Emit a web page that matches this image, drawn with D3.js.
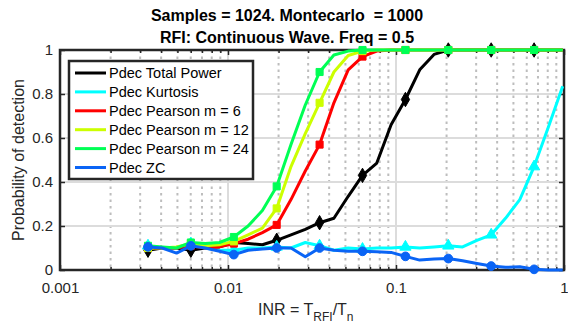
<!DOCTYPE html>
<html>
<head>
<meta charset="utf-8">
<script src="https://cdn.jsdelivr.net/npm/d3@7"></script>
<style>
  body { margin: 0; background: #fff; }
  svg { display: block; font-family: "Liberation Sans", Arial, sans-serif; }
</style>
</head>
<body>
<div id="chart"></div>
<script>
// INR sample points (T_RFI / T_n)
const inr = [0.00334, 0.00406, 0.00494, 0.00601, 0.00732, 0.0089, 0.01083, 0.01317, 0.01602, 0.01949,
             0.02371, 0.02884, 0.03509, 0.0427, 0.05194, 0.06319, 0.07687, 0.0935, 0.1138, 0.1384,
             0.1684, 0.2048, 0.2491, 0.3031, 0.3687, 0.4485, 0.5456, 0.6638, 0.8076, 0.9823];

// probability of detection per detector
const pdTotalPower = [0.09, 0.1, 0.1, 0.09, 0.1, 0.105, 0.125, 0.12, 0.115, 0.135,
                      0.16, 0.185, 0.215, 0.235, 0.335, 0.43, 0.486, 0.66, 0.775, 0.91,
                      0.98, 1, 1, 1, 1, 1, 1, 1, 1, 1];
const pdKurtosis = [0.11, 0.1, 0.1, 0.12, 0.1, 0.09, 0.09, 0.1, 0.1, 0.105,
                    0.1, 0.125, 0.11, 0.09, 0.1, 0.095, 0.1, 0.1, 0.105, 0.1,
                    0.105, 0.11, 0.105, 0.135, 0.16, 0.235, 0.32, 0.47, 0.65, 0.835];
const pdPearson6 = [0.1, 0.1, 0.1, 0.11, 0.1, 0.105, 0.12, 0.14, 0.17, 0.205,
                    0.32, 0.45, 0.57, 0.76, 0.91, 0.97, 0.995, 1, 1, 1,
                    1, 1, 1, 1, 1, 1, 1, 1, 1, 1];
const pdPearson12 = [0.1, 0.1, 0.105, 0.12, 0.11, 0.115, 0.13, 0.16, 0.19, 0.28,
                     0.47, 0.62, 0.76, 0.9, 0.975, 0.995, 1, 1, 1, 1,
                     1, 1, 1, 1, 1, 1, 1, 1, 1, 1];
const pdPearson24 = [0.11, 0.105, 0.1, 0.125, 0.12, 0.125, 0.15, 0.2, 0.27, 0.38,
                     0.57, 0.75, 0.9, 0.977, 0.995, 1, 1, 1, 1, 1,
                     1, 1, 1, 1, 1, 1, 1, 1, 1, 1];
const pdZC = [0.105, 0.1, 0.077, 0.11, 0.1, 0.085, 0.07, 0.09, 0.095, 0.1,
              0.1, 0.06, 0.1, 0.09, 0.085, 0.085, 0.083, 0.08, 0.062, 0.045,
              0.05, 0.052, 0.042, 0.03, 0.018, 0.012, 0.015, 0.003, 0, 0];

const seriesNames = ['Pdec Total Power', 'Pdec Kurtosis', 'Pdec Pearson m = 6',
                     'Pdec Pearson m = 12', 'Pdec Pearson m = 24', 'Pdec ZC'];
const yTicks = [0, 0.2, 0.4, 0.6, 0.8, 1];
const xTicks = [0.001, 0.01, 0.1, 1];

const series = [
    { name: seriesNames[0], values: pdTotalPower, color: '#000000', marker: 'diamond' },
    { name: seriesNames[1], values: pdKurtosis, color: '#00ffff', marker: 'triangle' },
    { name: seriesNames[2], values: pdPearson6, color: '#ff0000', marker: 'square' },
    { name: seriesNames[3], values: pdPearson12, color: '#ccff00', marker: 'square' },
    { name: seriesNames[4], values: pdPearson24, color: '#00ff55', marker: 'square' },
    { name: seriesNames[5], values: pdZC, color: '#0a64f5', marker: 'circle' }
];

const W = 568, H = 325;
const plot = { left: 60, right: 564, top: 50, bottom: 270 };

const svg = d3.select('#chart').append('svg')
    .attr('width', W)
    .attr('height', H);

const x = d3.scaleLog().domain([0.001, 1]).range([plot.left, plot.right]);
const y = d3.scaleLinear().domain([0, 1]).range([plot.bottom, plot.top]);

// minor positions 2..9 in every decade
const minorTicks = [];
[0.001, 0.01, 0.1].forEach(d => {
    for (let k = 2; k <= 9; k++) minorTicks.push(d * k);
});

// grid
const grid = svg.append('g');
grid.selectAll('line.minor')
    .data(minorTicks)
    .enter()
    .append('line')
    .attr('x1', d => x(d)).attr('x2', d => x(d))
    .attr('y1', plot.top).attr('y2', plot.bottom)
    .attr('stroke', '#bdbdbd')
    .attr('stroke-width', 2)
    .attr('stroke-dasharray', '2.5,4');
grid.selectAll('line.mx')
    .data(xTicks.slice(1, 3))
    .enter()
    .append('line')
    .attr('x1', d => x(d)).attr('x2', d => x(d))
    .attr('y1', plot.top).attr('y2', plot.bottom)
    .attr('stroke', '#dcdcdc')
    .attr('stroke-width', 2);
grid.selectAll('line.my')
    .data(yTicks.slice(1, 5))
    .enter()
    .append('line')
    .attr('x1', plot.left).attr('x2', plot.right)
    .attr('y1', d => y(d)).attr('y2', d => y(d))
    .attr('stroke', '#dcdcdc')
    .attr('stroke-width', 2);

// axes box with inward ticks
const axes = svg.append('g');
axes.append('g')
    .attr('transform', `translate(0,${plot.bottom})`)
    .call(d3.axisBottom(x).tickValues(xTicks).tickSizeInner(-5).tickSizeOuter(0).tickFormat(d3.format('~g')))
    .call(g => g.select('.domain').remove())
    .call(g => g.selectAll('text').attr('y', 12).attr('font-size', '15px')
        .attr('fill', '#262626').attr('font-family', '"Liberation Sans", Arial, sans-serif'));
axes.append('g')
    .attr('transform', `translate(0,${plot.bottom})`)
    .call(d3.axisBottom(x).tickValues(minorTicks).tickSizeInner(-3).tickSizeOuter(0).tickFormat(''))
    .call(g => g.select('.domain').remove());
axes.append('g')
    .attr('transform', `translate(0,${plot.top})`)
    .call(d3.axisTop(x).tickValues(xTicks).tickSizeInner(-5).tickSizeOuter(0).tickFormat(''))
    .call(g => g.select('.domain').remove());
axes.append('g')
    .attr('transform', `translate(0,${plot.top})`)
    .call(d3.axisTop(x).tickValues(minorTicks).tickSizeInner(-3).tickSizeOuter(0).tickFormat(''))
    .call(g => g.select('.domain').remove());
axes.append('g')
    .attr('transform', `translate(${plot.left},0)`)
    .call(d3.axisLeft(y).tickValues(yTicks).tickSizeInner(-5).tickSizeOuter(0).tickFormat(d3.format('~g')))
    .call(g => g.select('.domain').remove())
    .call(g => g.selectAll('text').attr('x', -7).attr('font-size', '15px')
        .attr('fill', '#262626').attr('font-family', '"Liberation Sans", Arial, sans-serif'));
axes.append('g')
    .attr('transform', `translate(${plot.right},0)`)
    .call(d3.axisRight(y).tickValues(yTicks).tickSizeInner(-5).tickSizeOuter(0).tickFormat(''))
    .call(g => g.select('.domain').remove());
axes.selectAll('.tick line').attr('stroke', '#262626').attr('stroke-width', 1.5);

axes.append('rect')
    .attr('x', plot.left).attr('y', plot.top)
    .attr('width', plot.right - plot.left)
    .attr('height', plot.bottom - plot.top)
    .attr('fill', 'none')
    .attr('stroke', '#262626')
    .attr('stroke-width', 2.5);

// data lines + markers
const line = d3.line()
    .x((d, i) => x(inr[i]))
    .y(d => y(d));

const symbolOf = {
    diamond: d3.symbol().type(d3.symbolDiamond).size(60),
    triangle: d3.symbol().type(d3.symbolTriangle).size(55),
    square: d3.symbol().type(d3.symbolSquare).size(50),
    circle: d3.symbol().type(d3.symbolCircle).size(60)
};

series.forEach(s => {
    const g = svg.append('g');
    g.append('path')
        .attr('d', line(s.values))
        .attr('fill', 'none')
        .attr('stroke', s.color)
        .attr('stroke-width', 3)
        .attr('stroke-linejoin', 'round');
    g.selectAll('path.mk')
        .data(s.values.map((v, i) => ({ v, i })).filter(d => d.i % 3 === 0))
        .enter()
        .append('path')
        .attr('d', symbolOf[s.marker])
        .attr('transform', d => `translate(${x(inr[d.i])},${y(d.v)})`)
        .attr('fill', s.color)
        .attr('stroke', s.color)
        .attr('stroke-width', 1);
});

// legend
const legend = svg.append('g');
legend.append('rect')
    .attr('x', 69).attr('y', 61)
    .attr('width', 184).attr('height', 118)
    .attr('fill', '#fff')
    .attr('stroke', '#262626')
    .attr('stroke-width', 2.5);
const items = legend.selectAll('g.item')
    .data(series)
    .enter()
    .append('g')
    .attr('transform', (d, i) => `translate(0,${73 + i * 18.9})`);
items.append('line')
    .attr('x1', 75).attr('x2', 106)
    .attr('y1', 0).attr('y2', 0)
    .attr('stroke', d => d.color)
    .attr('stroke-width', 3);
items.append('text')
    .attr('x', 109).attr('y', 5)
    .attr('font-size', '14.5px')
    .attr('fill', '#000')
    .text(d => d.name);

// titles and labels
const title = svg.append('g').attr('font-weight', 'bold').attr('font-size', '16px').attr('text-anchor', 'middle');
title.append('text').attr('x', 287).attr('y', 21).text('Samples = 1024. Montecarlo  = 1000').attr('xml:space', 'preserve');
title.append('text').attr('x', 287).attr('y', 43).text('RFI: Continuous Wave. Freq = 0.5');

svg.append('text')
    .attr('transform', 'translate(24,160) rotate(-90)')
    .attr('text-anchor', 'middle')
    .attr('font-size', '16px')
    .attr('fill', '#262626')
    .text('Probability of detection');

const xl = svg.append('text')
    .attr('x', 258).attr('y', 315)
    .attr('font-size', '16px')
    .attr('fill', '#262626');
xl.append('tspan').text('INR = T');
xl.append('tspan').attr('font-size', '12px').attr('dy', 6).text('RFI');
xl.append('tspan').attr('dy', -6).text('/T');
xl.append('tspan').attr('font-size', '12px').attr('dy', 6).text('n');
</script>
</body>
</html>
